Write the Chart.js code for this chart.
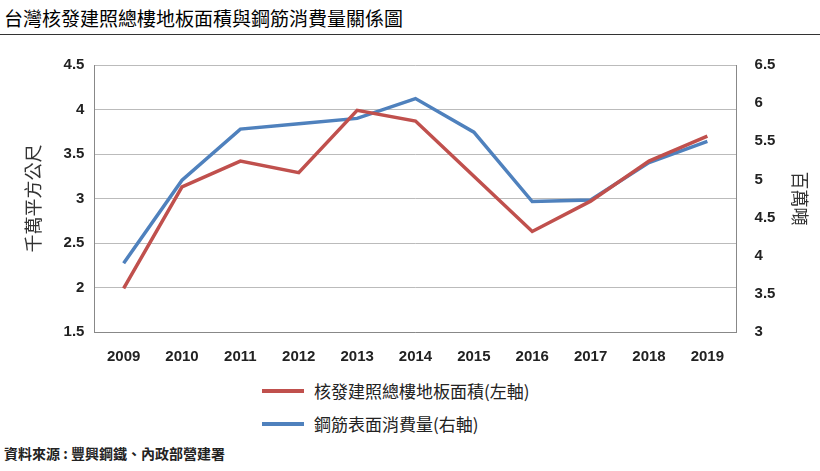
<!DOCTYPE html>
<html><head><meta charset="utf-8">
<script src="https://cdn.jsdelivr.net/npm/chart.js@4"></script>
<style>
body{margin:0;width:820px;height:471px;background:#fff;font-family:"Noto Sans CJK TC","Noto Sans",sans-serif;position:relative;overflow:hidden}
#title{position:absolute;left:4px;top:4px;font-size:19px;color:#000}
#rule{position:absolute;left:0;top:34px;width:820px;border-top:1.5px solid #333}
#wrap{position:absolute;left:0;top:46px;width:815px;height:328px}
#legend{position:absolute;left:262px;top:374px;font-size:17px;color:#222}
#legend div{display:flex;align-items:center;height:33px}
#legend span.l{display:inline-block;width:42px;height:4px;margin-right:10px}
#src{position:absolute;left:4px;top:443px;font-size:14px;font-weight:bold;color:#222}
</style></head><body>
<div id="title">台灣核發建照總樓地板面積與鋼筋消費量關係圖</div>
<div id="rule"></div>
<div id="wrap"><canvas id="c"></canvas></div>
<div id="legend">
<div><span class="l" style="background:#C0504D"></span>核發建照總樓地板面積(左軸)</div>
<div><span class="l" style="background:#4F81BD"></span>鋼筋表面消費量(右軸)</div>
</div>
<div id="src">資料來源 : 豐興鋼鐵、內政部營建署</div>
<script>
const years = ['2009','2010','2011','2012','2013','2014','2015','2016','2017','2018','2019'];
const floorArea = [1.99, 3.13, 3.42, 3.29, 3.99, 3.87, 3.25, 2.63, 2.97, 3.42, 3.70];
const rebar = [3.90, 4.99, 5.66, 5.73, 5.80, 6.06, 5.62, 4.71, 4.73, 5.22, 5.50];

const tickFont = { size: 15, weight: 'bold', family: 'Liberation Sans' };
new Chart(document.getElementById('c'), {
  type: 'line',
  data: {
    labels: years,
    datasets: [
      { label: '核發建照總樓地板面積(左軸)', data: floorArea, yAxisID: 'y', borderColor: '#C0504D', borderWidth: 3.5, pointRadius: 0, tension: 0 },
      { label: '鋼筋表面消費量(右軸)', data: rebar, yAxisID: 'y1', borderColor: '#4F81BD', borderWidth: 3.5, pointRadius: 0, tension: 0 }
    ]
  },
  options: {
    responsive: true, maintainAspectRatio: false, animation: false,
    layout: { padding: { left: 12, right: 0, top: 4 } },
    plugins: { legend: { display: false }, tooltip: { enabled: false } },
    scales: {
      x: {
        offset: true,
        grid: { display: false },
        border: { color: '#888' },
        ticks: { color: '#222', font: tickFont, padding: 8 }
      },
      y: {
        min: 1.5, max: 4.5,
        ticks: { stepSize: 0.5, color: '#222', font: tickFont, padding: 10, callback: v => String(v) },
        grid: { color: '#bbb', drawTicks: false },
        border: { color: '#888' },
        title: { display: true, text: '千萬平方公尺', color: '#333', padding: 10, font: { size: 18, family: 'Noto Sans CJK TC' } }
      },
      y1: {
        position: 'right', min: 3, max: 6.5,
        ticks: { stepSize: 0.5, color: '#222', font: tickFont, padding: 10, callback: v => String(v) },
        grid: { display: false },
        border: { color: '#888' },
        title: { display: true, text: '百萬噸', color: '#333', font: { size: 18, family: 'Noto Sans CJK TC' } }
      }
    }
  }
});
</script>
</body></html>
